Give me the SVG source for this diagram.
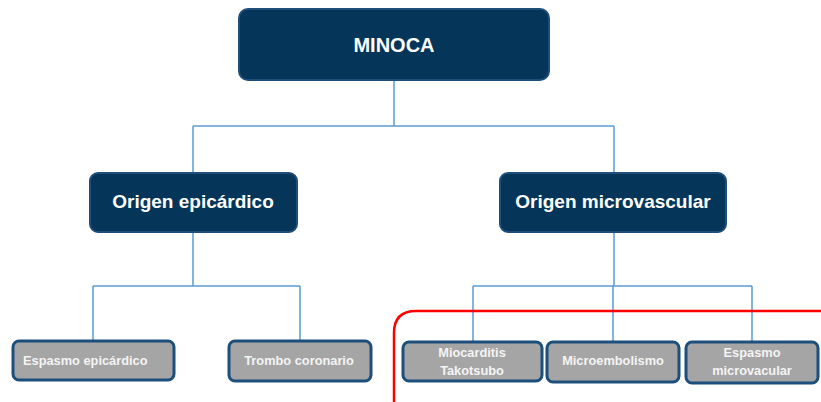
<svg xmlns="http://www.w3.org/2000/svg" width="821" height="402" viewBox="0 0 821 402">
<style>
.dark{fill:#053659;stroke:#1f4e79;stroke-width:2}
.gray{fill:#a5a5a5;stroke:#1c4f7c;stroke-width:3}
.t{font-family:"Liberation Sans",Arial,sans-serif;font-weight:bold;fill:#ffffff;text-anchor:middle}
.big{font-size:20px}
.mid{font-size:19px}
.sm{font-size:12.8px;fill:#f4f4f4}
.conn{fill:none;stroke:#5b9bd5;stroke-width:1.5}
</style>
<rect width="821" height="402" fill="#ffffff"/>
<g id="connectors">
<path class="conn" d="M394 80V126M193 126H614M193 126V173M614 126V173"/>
<path class="conn" d="M193 232V286M93 286H300M93 286V341M300 286V341"/>
<path class="conn" d="M614 232V286M473 286H752M473 286V342M613 286V342M752 286V342"/>
</g>
<g id="highlight">
<path d="M821 311H416Q394 311 394 333V402" fill="none" stroke="#ff0000" stroke-width="2.5"/>
</g>
<g id="minoca">
<rect class="dark" x="239" y="9" width="310" height="71" rx="9"/>
<text class="t big" x="394" y="52">MINOCA</text>
</g>
<g id="origen-epicardico">
<rect class="dark" x="90" y="173" width="207" height="59" rx="8"/>
<text class="t mid" x="193" y="208">Origen epicárdico</text>
</g>
<g id="origen-microvascular">
<rect class="dark" x="500" y="173" width="226" height="59" rx="8"/>
<text class="t mid" x="613" y="208">Origen microvascular</text>
</g>
<g id="espasmo-epicardico">
<rect class="gray" x="13" y="341" width="161" height="39" rx="6"/>
<text class="t sm" x="23" y="365" style="text-anchor:start">Espasmo epicárdico</text>
</g>
<g id="trombo-coronario">
<rect class="gray" x="229" y="341" width="142" height="40" rx="6"/>
<text class="t sm" x="299" y="365">Trombo coronario</text>
</g>
<g id="miocarditis">
<rect class="gray" x="403" y="342" width="139" height="39" rx="6"/>
<text class="t sm" x="472" y="357">Miocarditis</text>
<text class="t sm" x="472" y="375">Takotsubo</text>
</g>
<g id="microembolismo">
<rect class="gray" x="547" y="342" width="132" height="40" rx="6"/>
<text class="t sm" x="613" y="365">Microembolismo</text>
</g>
<g id="espasmo-microvacular">
<rect class="gray" x="686" y="342" width="132" height="41" rx="6"/>
<text class="t sm" x="752" y="357">Espasmo</text>
<text class="t sm" x="752" y="375">microvacular</text>
</g>
</svg>
